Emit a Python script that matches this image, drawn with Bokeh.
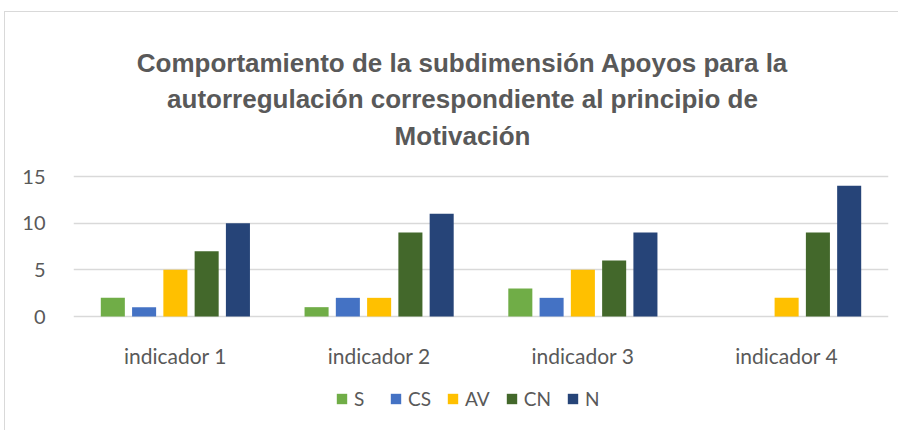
from bokeh.plotting import figure
from bokeh.models import Range1d, Legend, LegendItem, Label, ColumnDataSource, FixedTicker
from bokeh.core.properties import value
from bokeh.embed import file_html
from bokeh.resources import INLINE

categories = ["indicador 1", "indicador 2", "indicador 3", "indicador 4"]
series = ["S", "CS", "AV", "CN", "N"]
S = [2, 1, 3, 0]
CS = [1, 2, 2, 0]
AV = [5, 2, 5, 2]
CN = [7, 9, 6, 9]
N = [10, 11, 9, 14]
colors = ["#70AD47", "#4472C4", "#FFC000", "#43682B", "#264478"]
title_lines = ["Comportamiento de la subdimensión Apoyos para la",
               "autorregulación correspondiente al principio de",
               "Motivación"]
yticks = [0, 5, 10, 15]

values = dict(S=S, CS=CS, AV=AV, CN=CN, N=N)
centers = [i + 0.5 for i in range(len(categories))]

# frame spans the whole chart box; y range chosen so 0..15 sits where the reference plot area is
PX = 140 / 15.0            # pixels per unit
FRAME_TOP, FRAME_BOT = 12, 430
Y0, Y15 = 316, 176
y_end = 15 + (Y15 - FRAME_TOP) / PX
y_start = -(FRAME_BOT - Y0) / PX

p = figure(x_range=Range1d(0, 4), y_range=Range1d(y_start, y_end),
           frame_width=815, frame_height=FRAME_BOT - FRAME_TOP,
           output_backend="svg", toolbar_location=None,
           min_border_left=68, min_border_right=10, min_border_top=0, min_border_bottom=0)
p.styles = {"border-left": "1px solid #d9d9d9", "border-top": "1px solid #d9d9d9",
            "margin-left": "4px", "margin-top": "11px"}

pitch = 0.1535
width = 0.118
items = []
for i, (name, col) in enumerate(zip(series, colors)):
    src = ColumnDataSource(dict(x=[c + (i - 2) * pitch for c in centers], top=values[name]))
    r = p.vbar(x="x", top="top", bottom=0, width=width, source=src,
               fill_color=col, line_color=None)
    items.append(LegendItem(label=name, renderers=[r]))

# category labels
lab_src = ColumnDataSource(dict(x=centers, y=[-(355 - Y0) / PX] * len(categories), t=categories))
p.text(x="x", y="y", text="t", source=lab_src, text_align="center", text_baseline="alphabetic",
       text_font=value("Lato"), text_font_size="21px", text_color="#595959")

legend = Legend(items=items, orientation="horizontal", location=(262, 20),
                glyph_width=13, glyph_height=13, label_standoff=6, spacing=15,
                label_text_font="Lato", label_text_font_size="19px", label_text_color="#595959",
                border_line_color=None, background_fill_alpha=0, padding=0, margin=0)
p.add_layout(legend, "center")

for line, base in zip(title_lines, [62, 98, 135]):
    p.add_layout(Label(x=462 - 73, y=FRAME_BOT - base, x_units="screen", y_units="screen",
                       text=line, text_align="center", text_baseline="alphabetic",
                       text_font="Liberation Sans", text_font_style="bold",
                       text_font_size="26px", text_color="#595959"))

p.outline_line_color = None
p.xaxis.visible = False
p.xgrid.grid_line_color = None
p.ygrid.grid_line_color = "#d9d9d9"
p.ygrid.grid_line_width = 1.5
p.yaxis.ticker = FixedTicker(ticks=yticks)
ax = p.yaxis[0]
ax.axis_line_color = None
ax.major_tick_line_color = None
ax.minor_tick_line_color = None
ax.major_label_text_font = "Lato"
ax.major_label_text_font_size = "20px"
ax.major_label_text_color = "#595959"
ax.major_label_standoff = 22

open("out.html", "w").write(file_html(p, INLINE))
